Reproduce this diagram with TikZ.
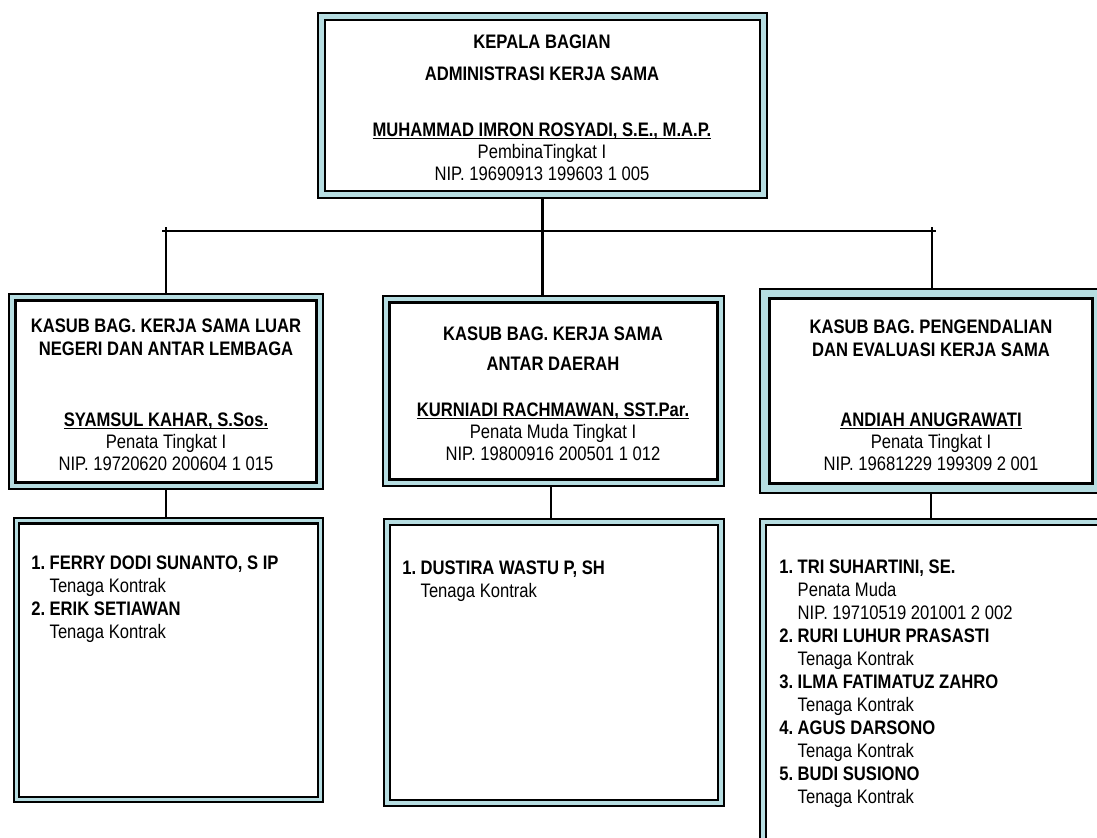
\documentclass[tikz,border=0pt]{standalone}
\usepackage{fontspec}
\setmainfont{Liberation Sans}[FakeStretch=0.85]
\usetikzlibrary{backgrounds}
\definecolor{boxblue}{RGB}{182,221,225}
\tikzset{
  box/.style={draw=black, line width=1.6pt, double=boxblue, double distance=#1,
    fill=white, inner sep=0pt},
  box/.default=3pt,
  hd/.style={inner sep=0pt, align=center, anchor=north,
    font=\fontsize{13.9}{15.65}\selectfont\bfseries},
  ps/.style={inner sep=0pt, align=center, anchor=south},
  lst/.style={inner sep=0pt, align=left, anchor=north west,
    font=\fontsize{13.9}{16.36}\selectfont},
  conn/.style={line width=1.6pt},
}
\newsavebox{\namabox}
\newcommand{\nama}[1]{\sbox{\namabox}{\bfseries #1}\rlap{\rule[-2pt]{\wd\namabox}{1pt}}\usebox{\namabox}}
\newcommand{\itm}[2]{\makebox[0.46cm][l]{\textbf{#1.}}\textbf{#2}}
\newcommand{\ket}[1]{\hspace*{0.46cm}#1}

\begin{document}
\begin{tikzpicture}[font=\fontsize{13.9}{15.65}\selectfont]
\useasboundingbox (0,0) rectangle (27.425,-20.925);

% ── Kepala Bagian ───────────────────────────────────────────
\node[box, minimum width=11.05cm, minimum height=4.45cm] (kb) at (13.5625,-2.6375) {};
\node[hd] (kbH) at (13.55,-0.875) {KEPALA BAGIAN\\[7.1pt]ADMINISTRASI KERJA SAMA};
\node[ps] (kbP) at (13.55,-4.525) {\nama{MUHAMMAD IMRON ROSYADI, S.E., M.A.P.}\\PembinaTingkat I\\NIP. 19690913 199603 1 005};

% ── Kasub Bag. Luar Negeri ──────────────────────────────────
\node[box, minimum width=7.69cm, minimum height=4.715cm] (k1) at (4.15,-9.7875) {};
\node[hd] (k1H) at (4.15,-7.975) {KASUB BAG. KERJA SAMA LUAR\\[0.7pt]NEGERI DAN ANTAR LEMBAGA};
\node[ps] (k1P) at (4.15,-11.775) {\nama{SYAMSUL KAHAR, S.Sos.}\\Penata Tingkat I\\NIP. 19720620 200604 1 015};

% ── Kasub Bag. Antar Daerah ─────────────────────────────────
\node[box, minimum width=8.365cm, minimum height=4.59cm] (k2) at (13.8375,-9.775) {};
\node[hd] (k2H) at (13.825,-8.175) {KASUB BAG. KERJA SAMA\\[5.7pt]ANTAR DAERAH};
\node[ps] (k2P) at (13.825,-11.525) {\nama{KURNIADI RACHMAWAN, SST.Par.}\\Penata Muda Tingkat I\\NIP. 19800916 200501 1 012};

% ── Kasub Bag. Pengendalian ─────────────────────────────────
\node[box=5pt, minimum width=8.31cm, minimum height=4.86cm] (k3) at (23.275,-9.775) {};
\node[hd] (k3H) at (23.275,-8.0) {KASUB BAG. PENGENDALIAN\\[0.7pt]DAN EVALUASI KERJA SAMA};
\node[ps] (k3P) at (23.275,-11.775) {\nama{ANDIAH ANUGRAWATI}\\Penata Tingkat I\\NIP. 19681229 199309 2 001};

% ── Staf ────────────────────────────────────────────────────
\node[box=2.2pt, minimum width=7.59cm, minimum height=6.965cm] (b1) at (4.2125,-16.5) {};
\node[lst] (b1L) at (0.775,-13.9) {\itm{1}{FERRY DODI SUNANTO, S IP}\\\ket{Tenaga Kontrak}\\\itm{2}{ERIK SETIAWAN}\\\ket{Tenaga Kontrak}};

\node[box=2.6pt, minimum width=8.35cm, minimum height=7.025cm] (b2) at (13.85,-16.5625) {};
\node[lst] (b2L) at (10.05,-14.025) {\itm{1}{DUSTIRA WASTU P, SH}\\\ket{Tenaga Kontrak}};

\node[box, minimum width=8.675cm, minimum height=8.2cm] (b3) at (23.4125,-17.15) {};
\node[lst] (b3L) at (19.475,-14.0) {\itm{1}{TRI SUHARTINI, SE.}\\\ket{Penata Muda}\\\ket{NIP. 19710519 201001 2 002}\\
  \itm{2}{RURI LUHUR PRASASTI}\\\ket{Tenaga Kontrak}\\\itm{3}{ILMA FATIMATUZ ZAHRO}\\\ket{Tenaga Kontrak}\\
  \itm{4}{AGUS DARSONO}\\\ket{Tenaga Kontrak}\\\itm{5}{BUDI SUSIONO}\\\ket{Tenaga Kontrak}};

% ── Garis ───────────────────────────────────────────────────
\begin{scope}[on background layer]
\coordinate (bus1) at (4.15,-5.775);
\coordinate (bus3) at (23.3,-5.775);
\draw[conn] ([xshift=-1mm]bus1) -- ([xshift=1mm]bus3);
\draw[conn] (kb.south) -- (kb.south |- bus1);
\draw[conn] ([yshift=1mm]bus1) -- (k1.north);
\draw[conn] (kb.south |- bus1) -- (kb.south |- k2.north);
\draw[conn] ([yshift=1mm]bus3) -- (bus3 |- k3.north);

\draw[conn] (k1.south) -- (k1.south |- b1.north);
\draw[conn] ([xshift=-0.6mm]k2.south) -- ([xshift=-0.6mm]k2.south |- b2.north);
\draw[conn] (k3.south) -- (k3.south |- b3.north);
\end{scope}

\end{tikzpicture}
\end{document}
